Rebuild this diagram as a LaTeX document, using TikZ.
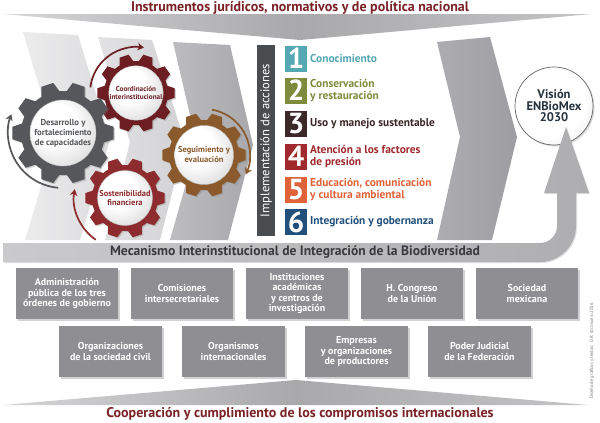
\documentclass[tikz,border=0pt]{standalone}
\usepackage{fontspec}
\setmainfont{PT Sans}
\usetikzlibrary{arrows.meta,shadows,calc}
\definecolor{titlered}{HTML}{7A2226}
\definecolor{gA}{HTML}{55575A}
\definecolor{gB}{HTML}{6C1E23}
\definecolor{gC}{HTML}{8A5A2C}
\definecolor{gD}{HTML}{8E2B2E}
\definecolor{nA}{HTML}{55A7B3}
\definecolor{nB}{HTML}{7E8B3D}
\definecolor{nC}{HTML}{3D2829}
\definecolor{nD}{HTML}{A0292E}
\definecolor{nE}{HTML}{DF6239}
\definecolor{nF}{HTML}{22507B}
\definecolor{boxgray}{HTML}{8F8E92}
\definecolor{barbar}{HTML}{4A4D50}
\definecolor{mectext}{HTML}{3A3A3E}
\definecolor{wedL}{HTML}{D6D6D8}
\definecolor{wedM}{HTML}{A9A9AC}
\definecolor{wedR}{HTML}{C4C4C6}
\definecolor{chA}{HTML}{ECECED}
\definecolor{chB}{HTML}{DCDCDE}
\definecolor{chC}{HTML}{E2E2E4}
\definecolor{chD}{HTML}{D2D2D4}
\definecolor{chE}{HTML}{BDBDC0}
\definecolor{chF}{HTML}{A8A8AC}
\definecolor{bigL}{HTML}{ADADB1}
\definecolor{bigR}{HTML}{9E9EA2}
\definecolor{mecL}{HTML}{CACACC}
\definecolor{mecR}{HTML}{AEAEB1}
\definecolor{vistext}{HTML}{26323C}
\pgfdeclareradialshading{gearface}{\pgfpoint{-10bp}{10bp}}{color(0bp)=(white); color(16bp)=(white); color(50bp)=(black!28)}
\pgfdeclareradialshading{visface}{\pgfpoint{-8bp}{8bp}}{color(0bp)=(white); color(24bp)=(white); color(50bp)=(black!20)}
\newcommand\fsz[2]{\fontsize{#1}{#2}\selectfont}
\newcommand\mkgear[5]{%
  \begin{scope}[shift={(#1,#2)}]
    \fill[#5, drop shadow={opacity=.35,shadow xshift=1.2pt,shadow yshift=-1.2pt}] (-13:#3)
      \foreach \a in {0,36,...,324}{ -- (\a-13:#3) -- (\a-7:#4) -- (\a+7:#4) -- (\a+13:#3) -- (\a+18:#3) } -- cycle;
  \end{scope}}
\begin{document}
\begin{tikzpicture}[x=1pt,y=-1pt,
  titletext/.style={text=titlered, font=\bfseries\fsz{14}{16}, inner sep=0pt},
  gearface/.style={circle, shading=gearface, draw=black!25, line width=0.4pt, inner sep=0pt, align=center},
  garrow/.style={line width=1.7pt, -{Stealth[length=6.5pt,width=7.5pt]}},
  numbox/.style={minimum width=22pt, minimum height=26pt, inner sep=0pt, text=white, font=\bfseries\fsz{29}{29}},
  actlabel/.style={anchor=west, align=left, inner sep=0pt, font=\bfseries\fsz{11.4}{12}},
  actor/.style={fill=boxgray, minimum width=102pt, minimum height=51pt, inner sep=1pt, text=white, align=center, font=\bfseries\fsz{10}{10.6}, drop shadow={opacity=.35, shadow xshift=1.5pt, shadow yshift=-1.5pt}}
]
\useasboundingbox (0,0) rectangle (600,423);
\fill[white] (0,0) rectangle (600,423);

% wedges
\shade[left color=wedL, right color=wedR, middle color=wedM] (3,14) -- (592,14) -- (300,40) -- cycle;
\shade[left color=wedL, right color=wedR, middle color=wedM] (3,405) -- (588,405) -- (296,380) -- cycle;

% background chevrons
\shade[left color=chA, right color=chB] (23,32) -- (78,35) -- (110,140) -- (80,240) -- (25,240) -- (55,140) -- cycle;
\shade[left color=chC, right color=chD] (98,37) -- (152,40) -- (185,142) -- (160,240) -- (105,240) -- (130,142) -- cycle;
\shade[left color=chE, right color=chF] (173,42) -- (230,45) -- (253,145) -- (228,240) -- (170,240) -- (197,145) -- cycle;
\shade[left color=bigL, right color=bigR] (437,42) -- (490,37) -- (517,137) -- (492,240) -- (437,240) -- (460,137) -- cycle;

% vision
\node[circle, minimum size=78pt, inner sep=0pt, shading=visface, draw=black!60, line width=0.7pt, align=center, text=vistext, font=\bfseries\fsz{12.5}{11.5}, drop shadow={opacity=.3, shadow xshift=1.5pt, shadow yshift=-1.5pt}] (vision) at (554,106) {Visión\\ENBioMex\\2030};

% mechanism band with arrow
\shade[left color=mecL, right color=mecR, drop shadow={opacity=.25, shadow xshift=1pt, shadow yshift=-1pt}] (3,243) -- (540,243) arc[start angle=90, end angle=0, radius=17] -- (557,193) -- (544,193) -- (566,127) -- (589,193) -- (576,193) -- (576,226) arc[start angle=0, end angle=90, radius=36] -- (3,262) -- cycle;
\node[text=mectext, font=\bfseries\fsz{13.6}{15}, inner sep=0pt] (mec) at (295,252.5) {Mecanismo Interinstitucional de Integración de la Biodiversidad};

% gear arrows
\coordinate (cA) at (63,133);
\coordinate (cB) at (136,93);
\coordinate (cC) at (204,155);
\coordinate (cD) at (125,198);
\draw[garrow, gA] ($(cA)+(95:55)$) arc[start angle=95, end angle=200, radius=55];
\draw[garrow, gB] ($(cB)+(187:46)$) arc[start angle=187, end angle=280, radius=46];
\draw[garrow, gC] ($(cC)+(-80:46)$) arc[start angle=-80, end angle=25, radius=46];
\draw[garrow, gD] ($(cD)+(125:51)$) arc[start angle=125, end angle=190, radius=51];

% gears
\mkgear{136}{93}{32}{39}{gB}
\mkgear{204}{155}{35}{42}{gC}
\mkgear{63}{133}{42}{51}{gA}
\mkgear{125}{198}{33}{40}{gD}
\node[gearface, minimum size=66pt, text=gA, font=\bfseries\fsz{8.7}{10}] (gearA) at (cA) {Desarrollo y\\fortalecimiento\\de capacidades};
\node[gearface, minimum size=51pt, text=gB, font=\bfseries\fsz{7.2}{8.4}] (gearB) at (cB) {Coordinación\\interinstitucional};
\node[gearface, minimum size=59pt, text=gC, font=\bfseries\fsz{8.5}{10}] (gearC) at (cC) {Seguimiento y\\evaluación};
\node[gearface, minimum size=55pt, text=gD, font=\bfseries\fsz{8.4}{9.6}] (gearD) at (cD) {Sostenibilidad\\financiera};

% actions
\node[fill=barbar, rotate=90, minimum width=191pt, minimum height=18pt, inner sep=0pt, text=white, font=\fsz{12.6}{13}] (impl) at (266,140.5) {Implementación de acciones};
\node[numbox, fill=nA] (n1) at (296,58.5) {1};
\node[numbox, fill=nB] (n2) at (296,90.5) {2};
\node[numbox, fill=nC] (n3) at (296,124) {3};
\node[numbox, fill=nD] (n4) at (296,156.5) {4};
\node[numbox, fill=nE] (n5) at (296,189.5) {5};
\node[numbox, fill=nF] (n6) at (296,222) {6};
\node[actlabel, text=nA] (l1) at (310,58.5) {Conocimiento};
\node[actlabel, text=nB] (l2) at (310,91) {Conservación\\y restauración};
\node[actlabel, text=nC] (l3) at (310,124) {Uso y manejo sustentable};
\node[actlabel, text=nD] (l4) at (310,156.5) {Atención a los factores\\de presión};
\node[actlabel, text=nE] (l5) at (310,190) {Educación, comunicación\\y cultura ambiental};
\node[actlabel, text=nF] (l6) at (310,222) {Integración y gobernanza};

% actors
\node[actor] (a1) at (67,293.5) {Administración\\pública de los tres\\órdenes de gobierno};
\node[actor] (a2) at (182,293.5) {Comisiones\\intersecretariales};
\node[actor] (a3) at (297,293.5) {Instituciones\\académicas\\y centros de\\investigación};
\node[actor] (a4) at (412,293.5) {H. Congreso\\de la Unión};
\node[actor] (a5) at (527,293.5) {Sociedad\\mexicana};
\node[actor, minimum width=103pt] (b1) at (110.5,351.5) {Organizaciones\\de la sociedad civil};
\node[actor, minimum width=103pt] (b2) at (233.5,351.5) {Organismos\\internacionales};
\node[actor, minimum width=103pt] (b3) at (356.5,351.5) {Empresas\\y organizaciones\\de productores};
\node[actor, minimum width=103pt] (b4) at (479.5,351.5) {Poder Judicial\\de la Federación};

% titles
\node[titletext] (toptitle) at (300,8) {Instrumentos jurídicos, normativos y de política nacional};
\node[titletext] (bottitle) at (300,414) {Cooperación y cumplimiento de los compromisos internacionales};
\node[rotate=90, text=black!55, inner sep=0pt, font=\fsz{4.6}{5}] (credit) at (592,351) {Diseño de gráficos y textos:\ \ D.R. © {\fsz{3.6}{4}CONABIO} 2016};
\end{tikzpicture}
\end{document}
